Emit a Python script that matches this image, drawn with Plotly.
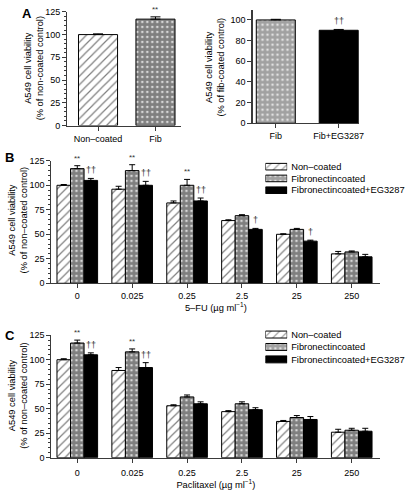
import plotly.graph_objects as go

W, H = 411, 496
FONT = "Arial, 'Liberation Sans', Helvetica, sans-serif"
AX = "#3a3a3a"

# ---------------- data ----------------
# Panel A (left)
a_left_cats = ["Non–coated", "Fib"]
a_left_vals = [100, 117]
a_left_err = [0.8, 2.5]
a_left_sig = ["", "**"]

# Panel A (right)
a_right_cats = ["Fib", "Fib+EG3287"]
a_right_vals = [100, 90]
a_right_err = [0.6, 0.8]
a_right_sig = ["", "††"]

# Panels B and C
doses = ["0", "0.025", "0.25", "2.5", "25", "250"]
series_names = ["Non–coated", "Fibronectincoated", "Fibronectincoated+EG3287"]

fu_nc = [100, 96, 82, 64, 50, 30]
fu_nc_err = [0.8, 3, 2, 0.8, 0.5, 2.5]
fu_fn = [117, 115, 100, 69, 55, 32]
fu_fn_err = [3, 6, 6, 1, 1, 1]
fu_eg = [105, 100, 84, 55, 43, 27]
fu_eg_err = [2, 4, 3, 1, 1, 2.5]
fu_fn_sig = ["**", "**", "**", "", "", ""]
fu_eg_sig = ["††", "††", "††", "†", "†", ""]

px_nc = [100, 89, 53, 47, 37, 26]
px_nc_err = [1, 3, 1, 1, 1, 3]
px_fn = [117, 108, 62, 55, 41, 28]
px_fn_err = [3, 3, 2, 2, 2, 2]
px_eg = [105, 92, 55, 49, 39, 27]
px_eg_err = [2, 5, 2, 2, 3, 3]
px_fn_sig = ["**", "**", "", "", "", ""]
px_eg_sig = ["††", "††", "", "", "", ""]

# ---------------- styles ----------------
pat_shapes = ["/", ".", ""]
pat_sizes = [6, 5, 4]
pat_solid = [0.2, 0.8, 0.5]
fill_cols = ["white", "white", "black"]
OUTLINE = dict(color="black", width=1)
TICK = dict(size=9, color="black", family=FONT)


def pattern(k):
    return dict(shape=pat_shapes[k], fgcolor="black", bgcolor="white",
                size=pat_sizes[k], solidity=pat_solid[k])


def err(arr, w=3):
    return dict(type="data", array=arr, arrayminus=[0] * len(arr), symmetric=False,
                color="black", thickness=1, width=w)


fig = go.Figure()

# Panel A left (Non-coated hatch, Fib checker)
fig.add_trace(go.Bar(
    x=list(range(len(a_left_cats))), y=a_left_vals, width=0.68,
    marker=dict(color="white", line=OUTLINE,
                pattern=dict(shape=[pat_shapes[0], pat_shapes[1]], fgcolor="black", bgcolor="white",
                             size=[pat_sizes[0], pat_sizes[1]], solidity=[pat_solid[0], pat_solid[1]])),
    error_y=err(a_left_err, 5), showlegend=False, hoverinfo="skip", xaxis="x", yaxis="y"))

# Panel A right (Fib checker, Fib+EG solid)
fig.add_trace(go.Bar(
    x=list(range(len(a_right_cats))), y=a_right_vals, width=0.62,
    marker=dict(color=["white", "black"], line=OUTLINE,
                pattern=dict(shape=[pat_shapes[1], ""], fgcolor="black", bgcolor="white",
                             size=[pat_sizes[1], 4], solidity=[pat_solid[1], 0.5])),
    error_y=err(a_right_err, 5), showlegend=False, hoverinfo="skip", xaxis="x2", yaxis="y2"))

# Panels B and C
panels = [
    ("x3", "y3", [(fu_nc, fu_nc_err), (fu_fn, fu_fn_err), (fu_eg, fu_eg_err)]),
    ("x4", "y4", [(px_nc, px_nc_err), (px_fn, px_fn_err), (px_eg, px_eg_err)]),
]
xs = list(range(len(doses)))
for xa, ya, series in panels:
    for k, (vals, errs) in enumerate(series):
        fig.add_trace(go.Bar(
            x=xs, y=vals, name=series_names[k], showlegend=False, hoverinfo="skip",
            marker=dict(color=fill_cols[k], line=OUTLINE, pattern=pattern(k)),
            error_y=err(errs, 3), xaxis=xa, yaxis=ya, offsetgroup=str(k)))

# Legend keys (one small key axis per panel, text as tick labels)
for xa, ya in [("x5", "y5"), ("x6", "y6")]:
    fig.add_trace(go.Bar(
        y=series_names, x=[1] * len(series_names), orientation="h", width=0.56,
        marker=dict(color=fill_cols, line=OUTLINE,
                    pattern=dict(shape=pat_shapes, fgcolor="black", bgcolor="white",
                                 size=pat_sizes, solidity=pat_solid)),
        showlegend=False, hoverinfo="skip", xaxis=xa, yaxis=ya))

fig.update_layout(barmode="group", bargap=0.26, bargroupgap=0)

# ---------------- axes ----------------
def yax(domain, rng, dtick, minor, anchor):
    d = dict(domain=domain, range=rng, dtick=dtick, anchor=anchor,
             showline=True, linecolor=AX, linewidth=1.2, ticks="outside",
             ticklen=4, tickcolor=AX, tickwidth=1, showgrid=False, zeroline=False,
             tickfont=TICK)
    if minor:
        d["minor"] = dict(dtick=minor, ticks="outside", ticklen=2, tickcolor=AX)
    return d


def xax(domain, rng, labels, title, anchor, standoff=3, lblstand=0):
    d = dict(domain=domain, range=rng, anchor=anchor,
             tickvals=list(range(len(labels))), ticktext=labels,
             showline=True, linecolor=AX, linewidth=1.2, ticks="outside",
             ticklen=4, tickcolor=AX, showgrid=False, zeroline=False,
             ticklabelstandoff=lblstand, tickfont=TICK)
    if title:
        d["title"] = dict(text=title, font=dict(size=9.3, color="black"), standoff=standoff)
    return d


def keyax_x(domain, anchor):
    return dict(domain=domain, range=[0, 1], anchor=anchor, visible=False, fixedrange=True)


def keyax_y(domain, anchor):
    return dict(domain=domain, range=[2.5, -0.5], anchor=anchor, side="right",
                showline=False, ticks="", showgrid=False, zeroline=False,
                ticklabelstandoff=3, tickfont=dict(size=9.3, color="black", family=FONT),
                fixedrange=True)


fig.update_layout(
    xaxis=xax([68 / W, 183 / W], [-0.534, 1.448], a_left_cats, None, "y"),
    yaxis=yax([1 - 123 / H, 1 - 7 / H], [0, 125], 25, 5, "x"),
    xaxis2=xax([255 / W, 363 / W], [-0.37, 1.33], a_right_cats, None, "y2"),
    yaxis2=yax([1 - 120.7 / H, 1 - 4.7 / H], [0, 110], 20, None, "x2"),
    xaxis3=xax([52 / W, 384 / W], [-0.47, 5.52], doses, "5–FU (µg ml<sup>−1</sup>)", "y3", 3, 0),
    yaxis3=yax([1 - 284 / H, 1 - 159 / H], [0, 125], 25, 5, "x3"),
    xaxis4=xax([52 / W, 384 / W], [-0.47, 5.52], doses, "Paclitaxel (µg ml<sup>−1</sup>)", "y4", 4, 2),
    yaxis4=yax([1 - 462 / H, 1 - 337 / H], [0, 125], 25, 5, "x4"),
    xaxis5=keyax_x([268 / W, 290 / W], "y5"),
    yaxis5=keyax_y([1 - 195 / H, 1 - 159 / H], "x5"),
    xaxis6=keyax_x([268 / W, 290 / W], "y6"),
    yaxis6=keyax_y([1 - 368 / H, 1 - 330 / H], "x6"),
)

# ---------------- annotations ----------------
ann = []
bw = (1 - 0.26) / 3
offs = [-bw, 0, bw]


def sig(xref, yref, x, y, text):
    sz = 8 if text.startswith("*") else 9
    return dict(xref=xref, yref=yref, x=x, y=y, text=text, showarrow=False,
                yanchor="bottom", yshift=1, font=dict(size=sz, color="#333", family=FONT))


for i, t in enumerate(a_left_sig):
    if t:
        ann.append(sig("x", "y", i, a_left_vals[i] + a_left_err[i], t))
for i, t in enumerate(a_right_sig):
    if t:
        ann.append(sig("x2", "y2", i, a_right_vals[i] + a_right_err[i], t))
for xr, yr, fnv, fne, fns, egv, ege, egs in [
        ("x3", "y3", fu_fn, fu_fn_err, fu_fn_sig, fu_eg, fu_eg_err, fu_eg_sig),
        ("x4", "y4", px_fn, px_fn_err, px_fn_sig, px_eg, px_eg_err, px_eg_sig)]:
    for i in xs:
        if fns[i]:
            ann.append(sig(xr, yr, i + offs[1], fnv[i] + fne[i], fns[i]))
        if egs[i]:
            ann.append(sig(xr, yr, i + offs[2], egv[i] + ege[i], egs[i]))

# y-axis titles (two lines, rotated)
ytitles = [
    ("A549 cell viability<br>(% of non-coated control)", 34, 65),
    ("A549 cell viability<br>(% of fib-coated control)", 217, 63),
    ("A549 cell viability<br>(% of non–coated control)", 18, 220),
    ("A549 cell viability<br>(% of non–coated control)", 18, 399),
]
for txt, cx, cy in ytitles:
    ann.append(dict(xref="paper", yref="paper", x=cx / W, y=1 - cy / H, text=txt,
                    textangle=-90, showarrow=False, xanchor="center", yanchor="middle",
                    font=dict(size=9.3, color="black", family=FONT)))

for letter, px, py in [("A", 20, 9), ("B", 3, 156), ("C", 3, 337)]:
    ann.append(dict(xref="paper", yref="paper", x=px / W, y=1 - py / H, text="<b>%s</b>" % letter,
                    showarrow=False, xanchor="left", yanchor="middle",
                    font=dict(size=13, color="black", family=FONT)))

fig.update_layout(
    annotations=ann, showlegend=False, hovermode=False,
    width=W, height=H, margin=dict(l=0, r=0, t=0, b=0),
    paper_bgcolor="white", plot_bgcolor="white",
    font=dict(family=FONT, color="black", size=9.3),
)

fig.write_html("out.html", config={"displayModeBar": False, "staticPlot": True},
               post_script="document.body.style.margin='0';document.body.style.padding='0';")
